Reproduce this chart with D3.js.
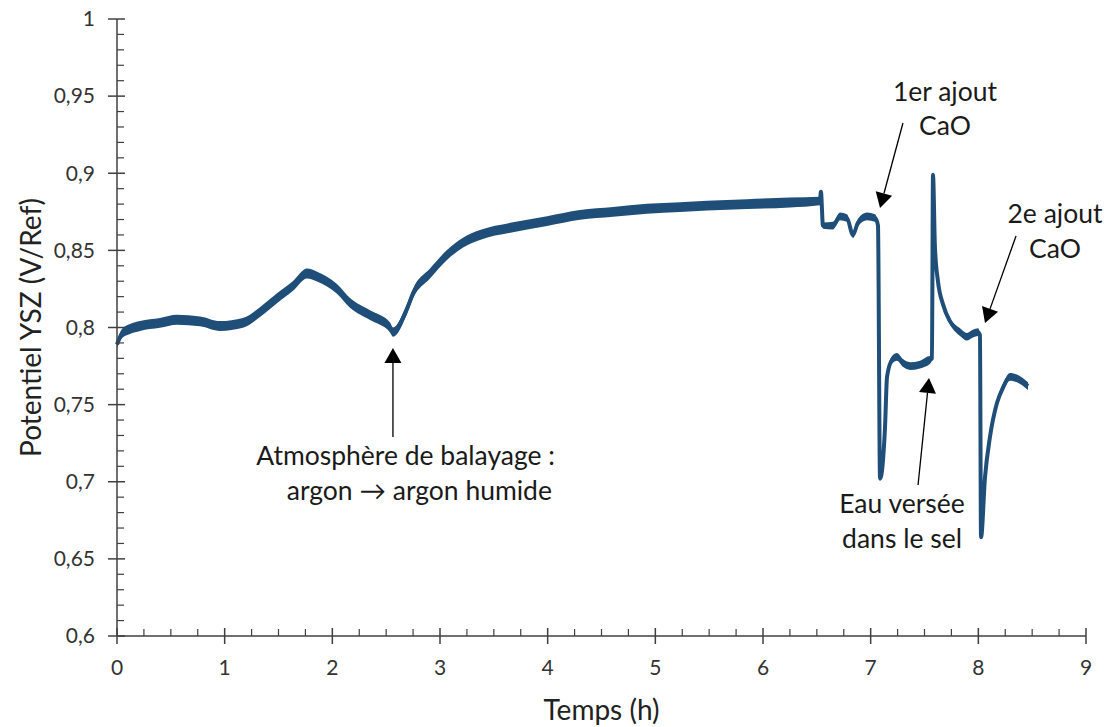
<!DOCTYPE html>
<html><head><meta charset="utf-8">
<script src="https://cdn.jsdelivr.net/npm/d3@7"></script>
<style>body{margin:0;background:#fff}svg{display:block}text{font-family:Lato,"Open Sans",sans-serif}</style>
</head><body><svg id="c" width="1107" height="727"></svg>
<script>
// ---- data (time in hours, potential in V/Ref) ----
const timeH = [0,0.046,0.121,0.214,0.399,0.557,0.771,0.957,1.170,1.328,1.486,1.635,1.765,1.858,2.043,2.164,2.350,2.536,2.563,2.693,2.749,2.907,3.065,3.214,3.371,3.678,3.994,4.300,4.607,4.922,5.229,5.480,5.851,6.251,6.529,6.538,6.557,6.650,6.715,6.780,6.836,6.882,6.966,7.040,7.068,7.087,7.133,7.152,7.198,7.244,7.300,7.365,7.458,7.551,7.569,7.579,7.597,7.625,7.672,7.737,7.830,7.894,7.950,7.997,8.015,8.025,8.062,8.108,8.173,8.229,8.294,8.359,8.461];
const potential = [0.789,0.796,0.799,0.801,0.803,0.805,0.804,0.801,0.803,0.810,0.819,0.827,0.835,0.833,0.825,0.816,0.808,0.800,0.797,0.812,0.822,0.835,0.847,0.855,0.860,0.865,0.869,0.873,0.875,0.877,0.878,0.879,0.880,0.881,0.882,0.888,0.866,0.866,0.872,0.871,0.860,0.868,0.872,0.871,0.866,0.702,0.735,0.768,0.779,0.781,0.777,0.775,0.776,0.779,0.780,0.899,0.852,0.830,0.815,0.804,0.797,0.794,0.796,0.797,0.795,0.664,0.703,0.729,0.751,0.761,0.768,0.767,0.762];
const noise = [0.0022,0.003,0.0032,0.0032,0.0032,0.0032,0.0032,0.0032,0.0032,0.0032,0.0032,0.0032,0.0032,0.0032,0.0032,0.0032,0.0032,0.0032,0.003,0.0032,0.0032,0.0032,0.0032,0.0032,0.0032,0.0032,0.0032,0.0032,0.0032,0.0032,0.0032,0.0032,0.0032,0.0032,0.0028,0,0.002,0.0025,0.0025,0.0025,0.002,0.0025,0.0025,0.0025,0.001,0,0,0.001,0.0025,0.0025,0.0025,0.0025,0.0025,0.0025,0.001,0,0,0.001,0.0018,0.002,0.0025,0.0025,0.0025,0.0025,0.001,0,0,0.001,0.0018,0.0025,0.0025,0.0025,0.0025];
const xMajor = [0,1,2,3,4,5,6,7,8,9];
const yMajor = [0.6,0.65,0.7,0.75,0.8,0.85,0.9,0.95,1];
const yLabels = ["0,6","0,65","0,7","0,75","0,8","0,85","0,9","0,95","1"];
const xTitle = "Temps (h)";
const yTitle = "Potentiel YSZ (V/Ref)";
// annotations: text lines with anchor points (t, v) of each baseline
const annotLines = [
  {lines:["Atmosphère de balayage :","argon \u2192 argon humide"], t:[4.068,4.040], v:[0.7109,0.6882], anchor:"end"},
  {lines:["1er ajout","CaO"], t:[7.69,7.69], v:[0.9468,0.9248], anchor:"middle"},
  {lines:["2e ajout","CaO"], t:[8.712,8.712], v:[0.8677,0.8451], anchor:"middle"},
  {lines:["Eau versée","dans le sel"], t:[7.291,7.291], v:[0.6797,0.6571], anchor:"middle"}
];
// arrows: tail (t,v) -> tip (t,v)
const arrowTail = [[2.563,0.729],[7.300,0.9326],[8.350,0.8593],[7.440,0.6979]];
const arrowTip  = [[2.563,0.7867],[7.087,0.8775],[8.062,0.8029],[7.542,0.7673]];

// ---- drawing ----
const svg = d3.select("#c");
const x = d3.scaleLinear().domain([0,9]).range([117,1086]);
const y = d3.scaleLinear().domain([0.6,1]).range([636,19]);
const axisCol = "#404040", lineCol = "#1f4e79";

const pts = timeH.map((t,i)=>({t, v:potential[i], n:noise[i]}));
svg.append("path").datum(pts)
  .attr("d", d3.area().curve(d3.curveMonotoneX).x(d=>x(d.t)).y0(d=>y(d.v-d.n)).y1(d=>y(d.v+d.n)))
  .attr("fill", lineCol);
svg.append("path").datum(pts)
  .attr("d", d3.line().curve(d3.curveMonotoneX).x(d=>x(d.t)).y(d=>y(d.v)))
  .attr("fill","none").attr("stroke",lineCol).attr("stroke-width",4).attr("stroke-linejoin","round");

// y axis
const gy = svg.append("g").attr("transform","translate(117,0)");
gy.append("line").attr("y1",y(0.6)).attr("y2",y(1)).attr("stroke",axisCol).attr("stroke-width",1.5);
const yMinor = d3.range(60,101).map(d=>d/100).filter(d=>!yMajor.some(m=>Math.abs(m-d)<1e-9));
gy.selectAll(".ym").data(yMinor).join("line").attr("x1",0).attr("x2",7)
  .attr("y1",d=>y(d)).attr("y2",d=>y(d)).attr("stroke",axisCol).attr("stroke-width",1.2);
gy.selectAll(".yM").data(yMajor).join("line").attr("x1",-9).attr("x2",8)
  .attr("y1",d=>y(d)).attr("y2",d=>y(d)).attr("stroke",axisCol).attr("stroke-width",1.5);
gy.selectAll("text").data(yMajor).join("text").attr("x",-22).attr("y",d=>y(d)).attr("dy","0.35em")
  .attr("text-anchor","end").attr("font-size",21).attr("fill","#333").text((d,i)=>yLabels[i]);

// x axis
const gx = svg.append("g").attr("transform",`translate(0,${y(0.6)})`);
gx.append("line").attr("x1",x(0)).attr("x2",x(9)).attr("stroke",axisCol).attr("stroke-width",1.5);
const xMinor = d3.range(0,37).map(d=>d/4).filter(d=>d%1!==0);
gx.selectAll(".xm").data(xMinor).join("line").attr("x1",d=>x(d)).attr("x2",d=>x(d))
  .attr("y1",0).attr("y2",-7).attr("stroke",axisCol).attr("stroke-width",1.2);
gx.selectAll(".xM").data(xMajor).join("line").attr("x1",d=>x(d)).attr("x2",d=>x(d))
  .attr("y1",-8).attr("y2",8).attr("stroke",axisCol).attr("stroke-width",1.5);
gx.selectAll("text").data(xMajor).join("text").attr("x",d=>x(d)).attr("y",39)
  .attr("text-anchor","middle").attr("font-size",21).attr("fill","#333").text(d=>d);

// titles
svg.append("text").attr("x",(x(0)+x(9))/2).attr("y",720).attr("text-anchor","middle")
  .attr("font-size",28).attr("fill","#222").text(xTitle);
svg.append("text").attr("transform",`translate(41,${(y(0.6)+y(1))/2}) rotate(-90)`)
  .attr("text-anchor","middle").attr("font-size",28).attr("fill","#222").text(yTitle);

// annotations
annotLines.forEach(a=>{
  a.lines.forEach((s,i)=>{
    svg.append("text").attr("x",x(a.t[i])).attr("y",y(a.v[i])).attr("text-anchor",a.anchor)
      .attr("font-size",26.5).attr("fill","#1a1a1a").text(s);
  });
});
arrowTail.forEach((tl,i)=>{
  const x0=x(tl[0]), y0=y(tl[1]), x1=x(arrowTip[i][0]), y1=y(arrowTip[i][1]);
  const dx=x1-x0, dy=y1-y0, L=Math.hypot(dx,dy), ux=dx/L, uy=dy/L;
  const hl=15, hw=8.5;
  const bx=x1-ux*hl, by=y1-uy*hl;
  svg.append("line").attr("x1",x0).attr("y1",y0).attr("x2",bx).attr("y2",by)
    .attr("stroke","#000").attr("stroke-width",1.3);
  svg.append("path").attr("d",`M${x1},${y1}L${bx-uy*hw},${by+ux*hw}L${bx+uy*hw},${by-ux*hw}Z`).attr("fill","#000");
});
</script></body></html>
